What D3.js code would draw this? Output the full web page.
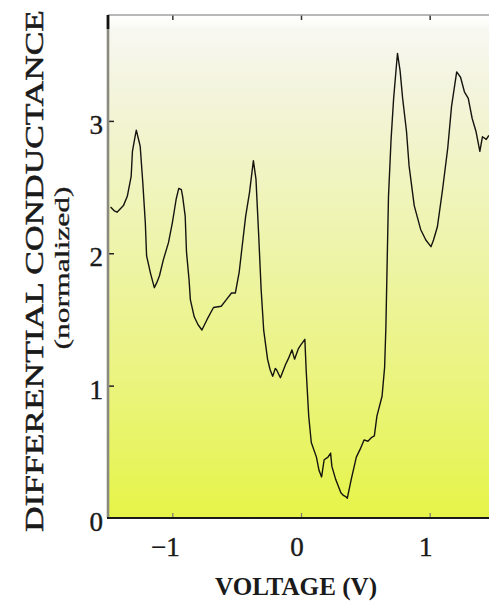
<!DOCTYPE html>
<html>
<head>
<meta charset="utf-8">
<script src="https://cdn.jsdelivr.net/npm/d3@7"></script>
<style>
  html, body { margin: 0; padding: 0; background: #ffffff; }
  svg { display: block; }
</style>
</head>
<body>
<svg id="chart" width="489" height="605"></svg>
<script>
// ---- data ----
const voltage = [
  -1.48, -1.45, -1.43, -1.40, -1.38, -1.35, -1.32, -1.31, -1.29, -1.28,
  -1.26, -1.25, -1.23, -1.21, -1.20, -1.17, -1.14, -1.12, -1.10, -1.07,
  -1.03, -1.00, -0.97, -0.95, -0.93, -0.92, -0.90, -0.89, -0.87, -0.86,
  -0.83, -0.80, -0.77, -0.75, -0.73, -0.68, -0.62, -0.58, -0.54, -0.51,
  -0.48, -0.46, -0.43, -0.40, -0.38, -0.37, -0.35, -0.33, -0.31, -0.29,
  -0.26, -0.24, -0.22, -0.20, -0.19, -0.16, -0.12, -0.10, -0.07, -0.05,
  -0.02, 0.00, 0.03, 0.04, 0.06, 0.08, 0.12, 0.14, 0.16, 0.18,
  0.21, 0.23, 0.24, 0.27, 0.31, 0.33, 0.35, 0.36, 0.39, 0.43,
  0.46, 0.49, 0.52, 0.55, 0.57, 0.59, 0.63, 0.65, 0.66, 0.67,
  0.68, 0.70, 0.72, 0.74, 0.75, 0.77, 0.79, 0.82, 0.84, 0.88,
  0.93, 0.97, 1.01, 1.03, 1.06, 1.10, 1.14, 1.17, 1.21, 1.24,
  1.27, 1.30, 1.33, 1.36, 1.39, 1.41, 1.44, 1.46
];
const conductance = [
  2.35, 2.32, 2.31, 2.34, 2.36, 2.43, 2.58, 2.77, 2.88, 2.93,
  2.85, 2.81, 2.54, 2.23, 1.98, 1.85, 1.74, 1.78, 1.83, 1.95,
  2.08, 2.23, 2.41, 2.49, 2.48, 2.43, 2.28, 2.01, 1.80, 1.65,
  1.52, 1.46, 1.42, 1.46, 1.50, 1.59, 1.60, 1.65, 1.70, 1.70,
  1.86, 2.03, 2.28, 2.46, 2.62, 2.70, 2.56, 2.16, 1.73, 1.42,
  1.20, 1.12, 1.07, 1.13, 1.12, 1.06, 1.16, 1.20, 1.27, 1.20,
  1.28, 1.31, 1.35, 1.12, 0.77, 0.57, 0.46, 0.36, 0.31, 0.44,
  0.46, 0.49, 0.39, 0.29, 0.19, 0.17, 0.16, 0.15, 0.29, 0.46,
  0.52, 0.59, 0.58, 0.61, 0.62, 0.77, 0.92, 1.14, 1.45, 1.95,
  2.43, 2.86, 3.17, 3.40, 3.51, 3.38, 3.17, 2.92, 2.66, 2.36,
  2.18, 2.10, 2.05, 2.10, 2.20, 2.48, 2.79, 3.11, 3.37, 3.33,
  3.22, 3.17, 3.02, 2.92, 2.77, 2.88, 2.86, 2.89
];
const xTicks = [-1, 0, 1];
const xTickLabels = ["\u22121", "0", "1"];
const yTicks = [0, 1, 2, 3];
const yTickLabels = ["0", "1", "2", "3"];
const xTitle = "VOLTAGE (V)";
const yTitle = "DIFFERENTIAL CONDUCTANCE";
const ySubTitle = "(normalized)";

// ---- layout ----
const svg = d3.select("#chart");
const pLeft = 108, pRight = 494, pTop = 15, pBottom = 518;
const x = d3.scaleLinear().domain([-1.5, 1.5]).range([pLeft, pRight]);
const y = d3.scaleLinear().domain([0, 3.8]).range([pBottom, pTop]);
const serif = "'Liberation Serif', 'DejaVu Serif', serif";

// background gradient
const defs = svg.append("defs");
const grad = defs.append("linearGradient")
  .attr("id", "bg").attr("x1", 0).attr("y1", 0).attr("x2", 0).attr("y2", 1);
[["0%", "#ffffff"], ["3%", "#f8f8f2"], ["15%", "#f3f4dc"], ["45%", "#eef4ac"], ["75%", "#eaf47a"], ["100%", "#e6f448"]]
  .forEach(([o, c]) => grad.append("stop").attr("offset", o).attr("stop-color", c));
defs.append("clipPath").attr("id", "clip")
  .append("rect").attr("x", pLeft).attr("y", pTop).attr("width", pRight - pLeft).attr("height", pBottom - pTop);

svg.append("rect")
  .attr("x", pLeft).attr("y", pTop)
  .attr("width", pRight - pLeft).attr("height", pBottom - pTop)
  .attr("fill", "url(#bg)");

// curve
const pts = voltage.map((v, i) => [v, conductance[i]]);
svg.append("path")
  .datum(pts)
  .attr("clip-path", "url(#clip)")
  .attr("fill", "none")
  .attr("stroke", "#151510")
  .attr("stroke-width", 1.4)
  .attr("stroke-linejoin", "round")
  .attr("d", d3.line().x(d => x(d[0])).y(d => y(d[1])));

// axes (ticks inward)
const xAxisB = d3.axisBottom(x).tickValues(xTicks).tickSize(-5).tickFormat("");
const gB = svg.append("g").attr("transform", `translate(0,${pBottom})`).call(xAxisB);
gB.select(".domain").remove();
gB.selectAll(".tick line").attr("stroke", "#777").attr("stroke-width", 1.2);

const xAxisT = d3.axisTop(x).tickValues(xTicks).tickSize(-5).tickFormat("");
const gT = svg.append("g").attr("transform", `translate(0,${pTop})`).call(xAxisT);
gT.select(".domain").remove();
gT.selectAll(".tick line").attr("stroke", "#333").attr("stroke-width", 1.5);

const yAxis = d3.axisLeft(y).tickValues(yTicks.filter(d => d > 0)).tickSize(-6).tickFormat("");
const gL = svg.append("g").attr("transform", `translate(${pLeft},0)`).call(yAxis);
gL.select(".domain").remove();
gL.selectAll(".tick line").attr("stroke", "#222").attr("stroke-width", 1.5);

// frame lines
svg.append("line").attr("x1", pLeft).attr("x2", pRight).attr("y1", pTop).attr("y2", pTop)
  .attr("stroke", "#a0a0a0").attr("stroke-width", 1.6);
svg.append("line").attr("x1", pLeft).attr("x2", pLeft).attr("y1", pTop).attr("y2", pBottom)
  .attr("stroke", "#8a8a80").attr("stroke-width", 2.6);
svg.append("line").attr("x1", pLeft).attr("x2", pLeft).attr("y1", pTop).attr("y2", pTop + 14)
  .attr("stroke", "#111").attr("stroke-width", 2.6);
svg.append("line").attr("x1", pLeft - 1).attr("x2", pRight).attr("y1", pBottom).attr("y2", pBottom)
  .attr("stroke", "#1a1a1a").attr("stroke-width", 2);

// tick labels
svg.append("g").selectAll("text")
  .data(xTicks)
  .join("text")
  .attr("x", (d) => x(d) + (d < 0 ? -7 : -4))
  .attr("y", 556)
  .attr("text-anchor", "middle")
  .attr("font-family", serif)
  .attr("font-size", 27)
  .attr("fill", "#1a1a1a")
  .attr("stroke", "#1a1a1a").attr("stroke-width", 0.4)
  .text((d, i) => xTickLabels[i]);

svg.append("g").selectAll("text")
  .data(yTicks)
  .join("text")
  .attr("x", 103)
  .attr("y", d => y(d) + 13)
  .attr("text-anchor", "end")
  .attr("font-family", serif)
  .attr("font-size", 27)
  .attr("fill", "#1a1a1a")
  .attr("stroke", "#1a1a1a").attr("stroke-width", 0.4)
  .text((d, i) => yTickLabels[i]);

// axis titles
svg.append("text")
  .attr("x", 296).attr("y", 595)
  .attr("text-anchor", "middle")
  .attr("font-family", serif)
  .attr("font-weight", "bold")
  .attr("font-size", 26)
  .attr("textLength", 162)
  .attr("lengthAdjust", "spacingAndGlyphs")
  .attr("fill", "#1a1a1a")
  .text(xTitle);

svg.append("text")
  .attr("transform", "translate(43,271) rotate(-90)")
  .attr("text-anchor", "middle")
  .attr("font-family", serif)
  .attr("font-size", 26)
  .attr("textLength", 522)
  .attr("lengthAdjust", "spacingAndGlyphs")
  .attr("fill", "#1a1a1a")
  .attr("stroke", "#1a1a1a").attr("stroke-width", 0.5)
  .text(yTitle);

svg.append("text")
  .attr("transform", "translate(69,268) rotate(-90)")
  .attr("text-anchor", "middle")
  .attr("font-family", serif)
  .attr("font-size", 20)
  .attr("textLength", 163)
  .attr("lengthAdjust", "spacingAndGlyphs")
  .attr("fill", "#1a1a1a")
  .attr("stroke", "#1a1a1a").attr("stroke-width", 0.3)
  .text(ySubTitle);
</script>
</body>
</html>
